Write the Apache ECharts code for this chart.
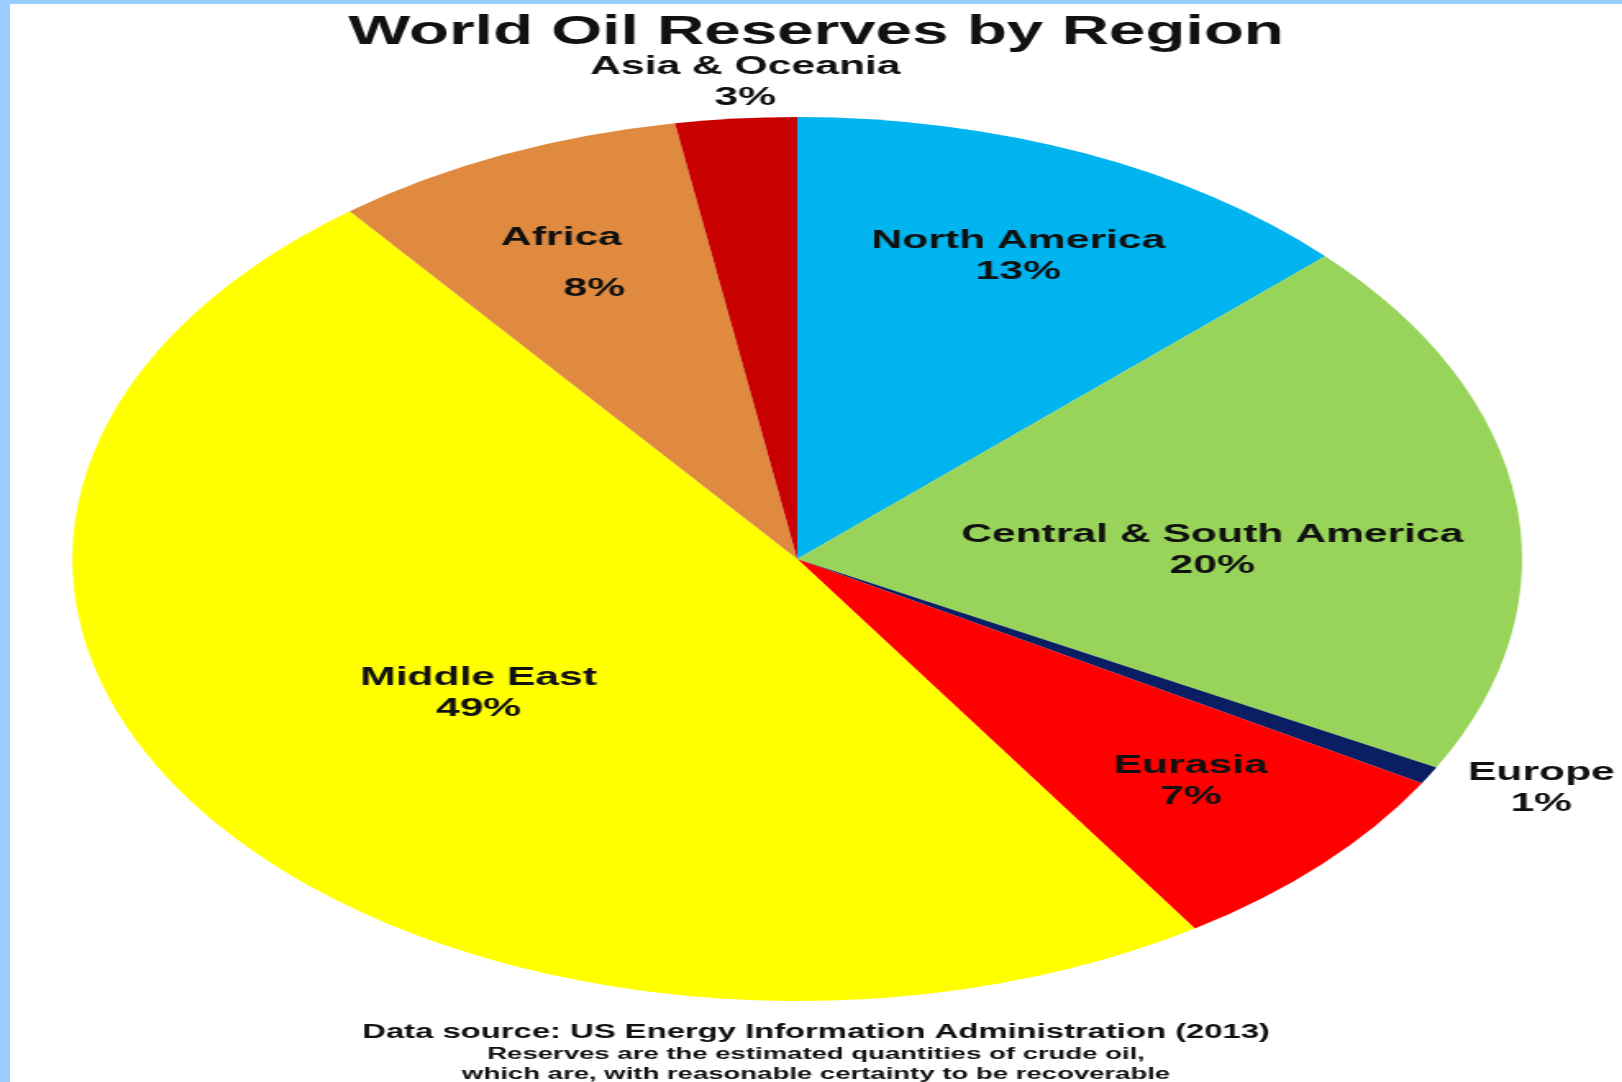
<!DOCTYPE html>
<html>
<head>
<meta charset="utf-8">
<script src="https://cdn.jsdelivr.net/npm/echarts@6/dist/echarts.min.js"></script>
<style>
  html, body { margin: 0; padding: 0; background: #99CCFF; width: 1622px; height: 1082px; overflow: hidden; }
  #frame { position: absolute; left: 10px; top: 4px; width: 1612px; height: 1078px; background: #ffffff; overflow: hidden; }
  #chart { position: absolute; left: 0; top: 0; width: 983px; height: 1078px; transform: scaleX(1.64); transform-origin: 0 0; }
</style>
</head>
<body>
<div id="frame"><div id="chart"></div></div>
<script>
// ---- data ----
const regions = ['North America', 'Central & South America', 'Europe', 'Eurasia', 'Middle East', 'Africa', 'Asia & Oceania'];
const shares  = [13.0, 19.85, 0.65, 7.3, 48.7, 7.9, 2.7];
const colors  = ['#00B4F0', '#99D45A', '#0A1F63', '#FF0000', '#FFFF00', '#E08A40', '#C80000'];
const titleText = 'World Oil Reserves by Region';
const sourceText = 'Data source: US Energy Information Administration (2013)';
const noteText = 'Reserves are the estimated quantities of crude oil,\nwhich are, with reasonable certainty to be recoverable';

// ---- layout (not data) ----
const CX = 480, CY = 555, R = 442;
// label placement: [angle from 12 o'clock clockwise (deg), radius fraction]
const labelPlace = [[24, 0.75], [88, 0.573], [116.8, 1.15], [132.8, 0.74], [235.4, 0.534], [333.3, 0.724], [356.2, 1.08]];

const FONT = '"Liberation Sans", Arial, sans-serif';
const chart = echarts.init(document.getElementById('chart'), null, { renderer: 'canvas' });

const seriesData = regions.map((name, i) => ({
  name: name,
  value: shares[i],
  itemStyle: { color: colors[i] }
}));

chart.setOption({
  backgroundColor: '#ffffff',
  animation: false,
  title: [
    { text: titleText, left: 'center', top: 4,
      textStyle: { fontFamily: FONT, fontSize: 40, fontWeight: 'bold', color: '#111' } },
    { text: sourceText, left: 'center', top: 1013,
      textStyle: { fontFamily: FONT, fontSize: 20, fontWeight: 'bold', color: '#111', lineHeight: 20 } },
    { text: noteText, left: 'center', top: 1035, padding: [5, 20, 5, 0],
      textStyle: { fontFamily: FONT, fontSize: 16.8, fontWeight: 'bold', color: '#111', lineHeight: 20 } }
  ],
  series: [{
    type: 'pie',
    center: [CX, CY],
    radius: R,
    startAngle: 90,
    clockwise: true,
    silent: true,
    avoidLabelOverlap: false,
    itemStyle: { borderWidth: 0 },
    emphasis: { disabled: true },
    labelLine: { show: false },
    label: {
      show: true,
      position: 'inside',
      fontFamily: FONT,
      fontSize: 26,
      fontWeight: 'bold',
      color: '#111',
      lineHeight: 31,
      align: 'center',
      formatter: function (p) {
        const pct = Math.round(p.percent) + '%';
        if (p.name === 'Africa') return '{n|' + p.name + '}\n{g|' + pct + '}';
        return p.name + '\n' + pct;
      },
      rich: {
        n: { fontFamily: FONT, fontSize: 26, fontWeight: 'bold', color: '#111', lineHeight: 31 },
        g: { fontFamily: FONT, fontSize: 26, fontWeight: 'bold', color: '#111', lineHeight: 70, padding: [0, 0, 0, 40] }
      }
    },
    labelLayout: function (params) {
      const pl = labelPlace[params.dataIndex];
      const a = pl[0] * Math.PI / 180;
      return {
        x: CX + Math.sin(a) * pl[1] * R,
        y: CY - Math.cos(a) * pl[1] * R,
        align: 'center',
        verticalAlign: 'middle'
      };
    },
    data: seriesData
  }]
});
</script>
</body>
</html>
